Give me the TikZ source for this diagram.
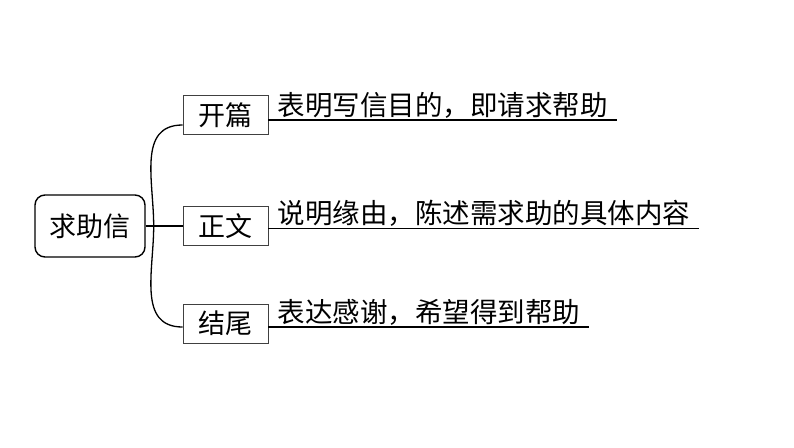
\documentclass[tikz,border=0pt]{standalone}
\usepackage{fontspec}
\newfontfamily\cjk{Noto Sans CJK SC}
\usetikzlibrary{positioning}

\begin{document}
\begin{tikzpicture}[x=1pt,y=-1pt,node distance=2cm,on grid,
    root/.style={draw,line width=1.4pt,rounded corners=10pt,minimum width=110pt,minimum height=62pt,font=\cjk\fontsize{27}{30}\selectfont},
    part/.style={draw=black!75,line width=0.9pt,minimum width=85pt,minimum height=39pt,font=\cjk\fontsize{27}{30}\selectfont},
    desc/.style={anchor=south west,inner xsep=9pt,inner ysep=1.5pt,font=\cjk\fontsize{27.5}{30}\selectfont},
    uline/.style={line width=1.8pt},
    branch/.style={line width=1.3pt}]
    \useasboundingbox (0,0) rectangle (794,447);
    \node[root] (qzx) at (90,226) {求助信};
    \node[part] (kp) [above right=111pt and 135.5pt of qzx] {开篇};
    \node[part] (zw) [right=135.5pt of qzx] {正文};
    \node[part] (jw) [below right=97.5pt and 135.5pt of qzx] {结尾};
    \node[desc] (kpt) at ([yshift=-5pt]kp.east) {表明写信目的，即请求帮助};
    \node[desc] (zwt) at ([yshift=-2.5pt]zw.east) {说明缘由，陈述需求助的具体内容};
    \node[desc] (jwt) at ([yshift=-3.5pt]jw.east) {表达感谢，希望得到帮助};
    \coordinate (fork) at ([xshift=8pt]qzx.east);
    \draw[branch] (qzx.east) -- (zw.west);
    \draw[branch] (fork) to[out=90,in=180,looseness=1.1] ([yshift=-10pt]kp.west);
    \draw[branch] (fork) to[out=-90,in=180,looseness=1.1] ([yshift=-3.5pt]jw.west);
    \draw[uline] (kp.east |- kpt.south) -- (kpt.south east);
    \draw[uline] (zw.east |- zwt.south) -- (zwt.south east);
    \draw[uline] (jw.east |- jwt.south) -- (jwt.south east);
\end{tikzpicture}
\end{document}
